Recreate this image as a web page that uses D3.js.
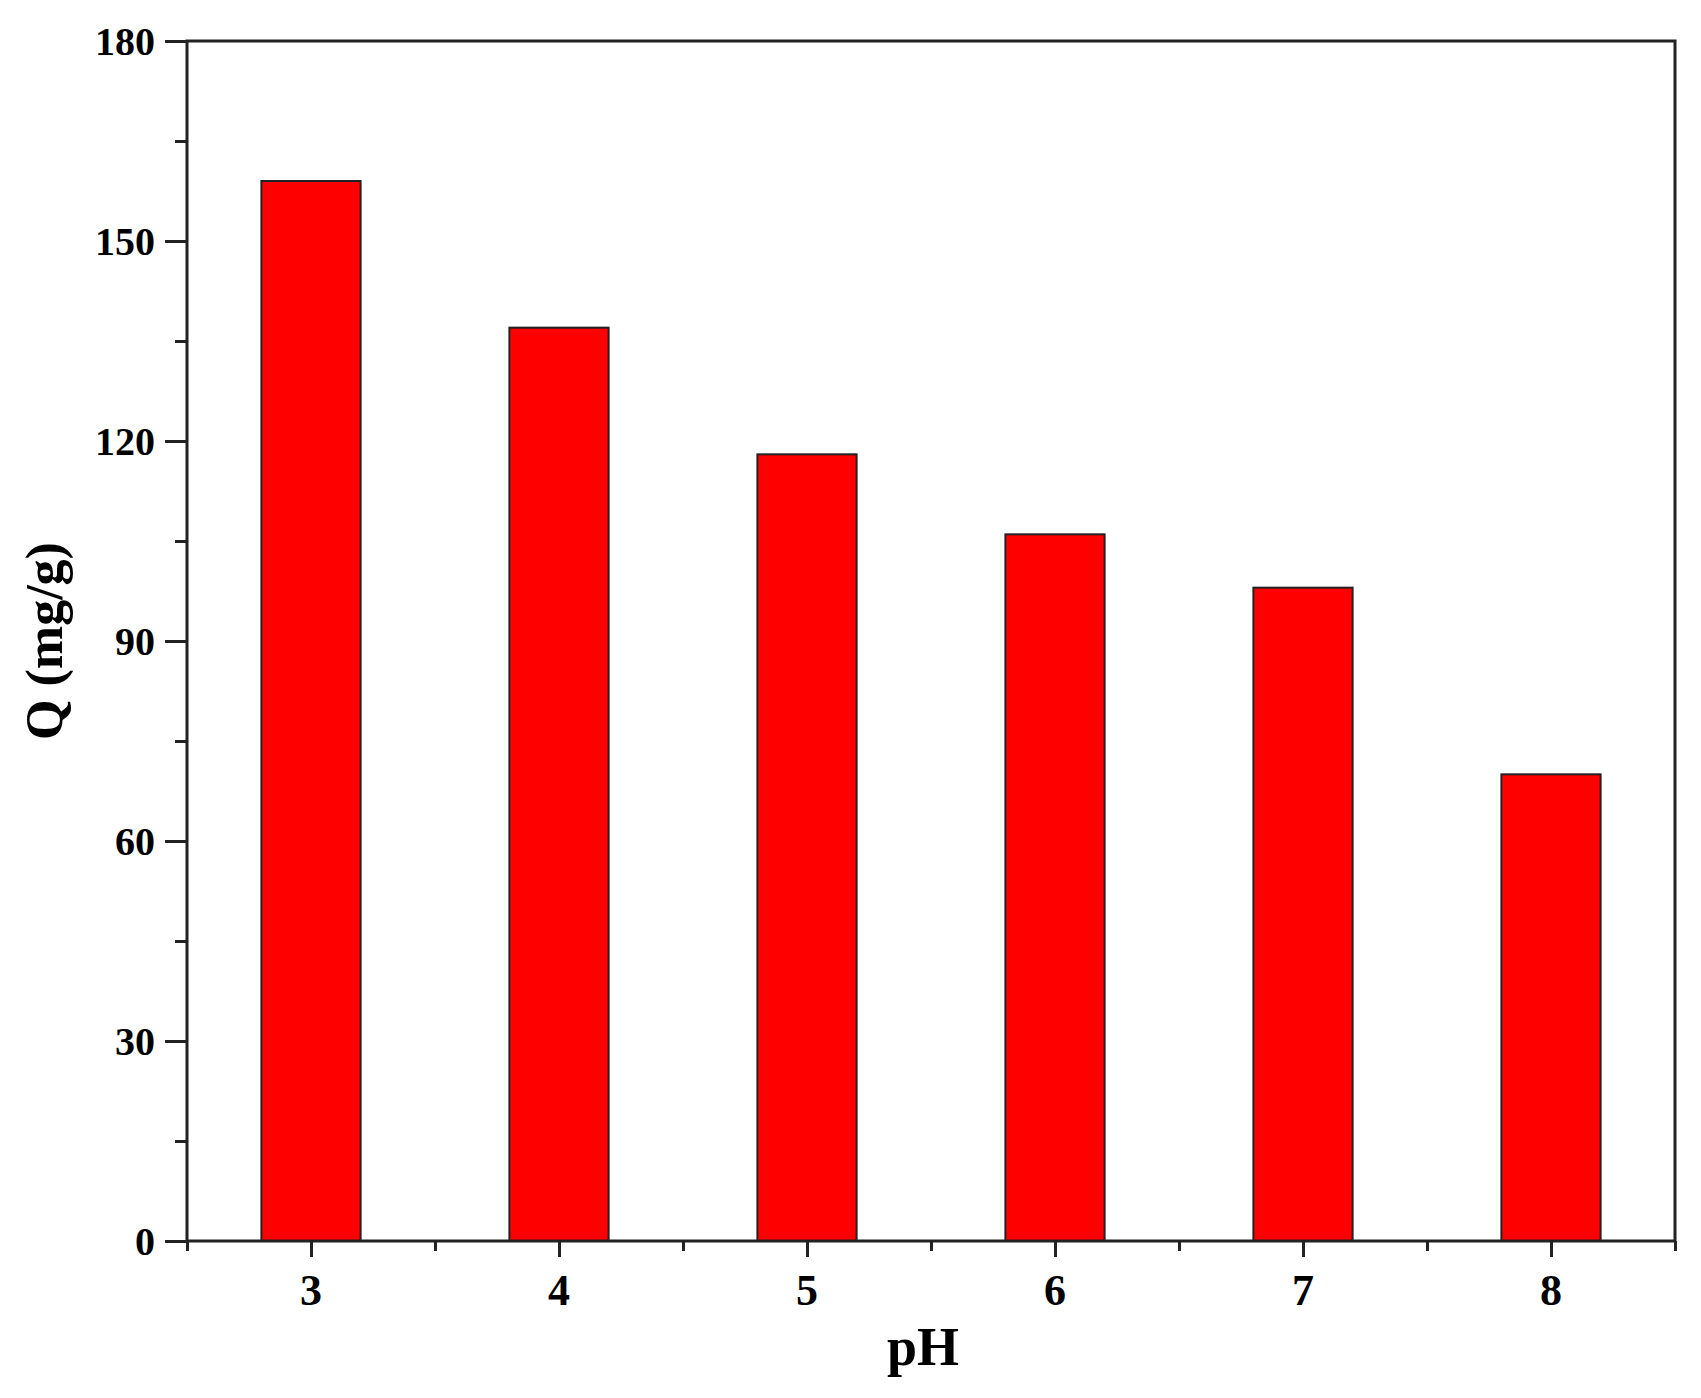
<!DOCTYPE html>
<html><head><meta charset="utf-8">
<script src="https://cdn.jsdelivr.net/npm/d3@7"></script>
<style>body{margin:0;background:#fff}</style>
</head><body><svg id="c" width="1701" height="1398"></svg>
<script>
const categories=[3,4,5,6,7,8];
const values=[159,137,118,106,98,70];
const yTicks=[0,30,60,90,120,150,180];
const svg=d3.select("#c");
const L=187,R=1675,T=41,B=1241;
const x=d3.scaleLinear().domain([2.5,8.5]).range([L,R]);
const y=d3.scaleLinear().domain([0,180]).range([B,T]);
const font="'Liberation Serif','Times New Roman',serif";
svg.selectAll("rect.bar").data(values).enter().append("rect")
 .attr("x",(d,i)=>x(categories[i]-0.2)).attr("width",x(0.4)-x(0))
 .attr("y",d=>y(d)).attr("height",d=>B-y(d))
 .attr("fill","#ff0000").attr("stroke","#222").attr("stroke-width",2);
svg.append("rect").attr("x",L).attr("y",T).attr("width",R-L).attr("height",B-T)
 .attr("fill","none").attr("stroke","#222").attr("stroke-width",3);
const ya=svg.append("g").attr("transform",`translate(${L},0)`)
 .call(d3.axisLeft(y).tickValues(d3.range(0,181,15)).tickSize(0).tickFormat(""));
ya.selectAll(".tick line").attr("x2",d=>d%30===0?-22:-12).attr("stroke","#222").attr("stroke-width",3);
ya.select(".domain").remove();
svg.append("g").selectAll("text").data(yTicks).enter().append("text")
 .attr("x",L-32).attr("y",d=>y(d)).attr("dy","0.35em").attr("text-anchor","end")
 .attr("font-family",font).attr("font-weight","bold").attr("font-size",40).text(d=>d);
const xa=svg.append("g").attr("transform",`translate(0,${B})`)
 .call(d3.axisBottom(x).tickValues(d3.range(2.5,8.51,0.5)).tickSize(0).tickFormat(""));
xa.selectAll(".tick line").attr("y2",d=>Number.isInteger(d)?16:10).attr("stroke","#222").attr("stroke-width",3);
xa.select(".domain").remove();
svg.append("g").selectAll("text").data(categories).enter().append("text")
 .attr("x",d=>x(d)).attr("y",B+64).attr("text-anchor","middle")
 .attr("font-family",font).attr("font-weight","bold").attr("font-size",44).text(d=>d);
svg.append("text").attr("x",(L+R)/2-8).attr("y",1365).attr("text-anchor","middle")
 .attr("font-family",font).attr("font-weight","bold").attr("font-size",54).text("pH");
svg.append("text").attr("transform",`translate(62,${(T+B)/2}) rotate(-90)`).attr("text-anchor","middle")
 .attr("font-family",font).attr("font-weight","bold").attr("font-size",52).text("Q (mg/g)");
</script></body></html>
